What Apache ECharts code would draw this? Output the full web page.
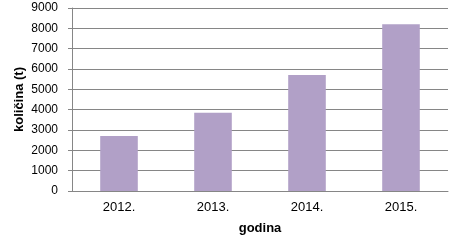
<!DOCTYPE html>
<html><head><meta charset="utf-8">
<script src="https://cdn.jsdelivr.net/npm/echarts@6/dist/echarts.min.js"></script>
<style>html,body{margin:0;padding:0;background:#fff}#c{width:461px;height:246px}</style>
</head><body><div id="c"></div>
<script>
const categories = ['2012.', '2013.', '2014.', '2015.'];
const values = [2700, 3850, 5700, 8200];
const yTicks = [0, 1000, 2000, 3000, 4000, 5000, 6000, 7000, 8000, 9000];
const yName = 'količina (t)';
const xName = 'godina';

const chart = echarts.init(document.getElementById('c'), null, {renderer: 'canvas'});
const font = 'Liberation Sans, Arial, sans-serif';
chart.setOption({
  animation: false,
  backgroundColor: '#fff',
  grid: {left: 72, right: 13, top: 8, bottom: 55},
  xAxis: {
    type: 'category', data: categories,
    name: xName, nameLocation: 'middle', nameGap: 31, nameMoveOverlap: false,
    nameTextStyle: {fontFamily: font, fontSize: 13, fontWeight: 'bold', color: '#000'},
    axisLine: {lineStyle: {color: '#868686'}},
    axisTick: {show: false},
    axisLabel: {fontFamily: font, fontSize: 13, color: '#000', margin: 10}
  },
  yAxis: {
    type: 'value', min: yTicks[0], max: yTicks[yTicks.length - 1], interval: 1000,
    name: yName, nameLocation: 'middle', nameGap: 46, nameRotate: 90, nameMoveOverlap: false,
    nameTextStyle: {fontFamily: font, fontSize: 13, fontWeight: 'bold', color: '#000'},
    axisLine: {show: true, lineStyle: {color: '#868686'}},
    axisTick: {show: true, length: 4, lineStyle: {color: '#868686'}},
    splitLine: {lineStyle: {color: '#868686'}},
    axisLabel: {fontFamily: font, fontSize: 12, color: '#000', margin: 14,
      formatter: v => String(v)}
  },
  series: [{
    type: 'bar', data: values, barWidth: '40%',
    itemStyle: {color: '#b1a0c7'}
  }]
});
</script></body></html>
